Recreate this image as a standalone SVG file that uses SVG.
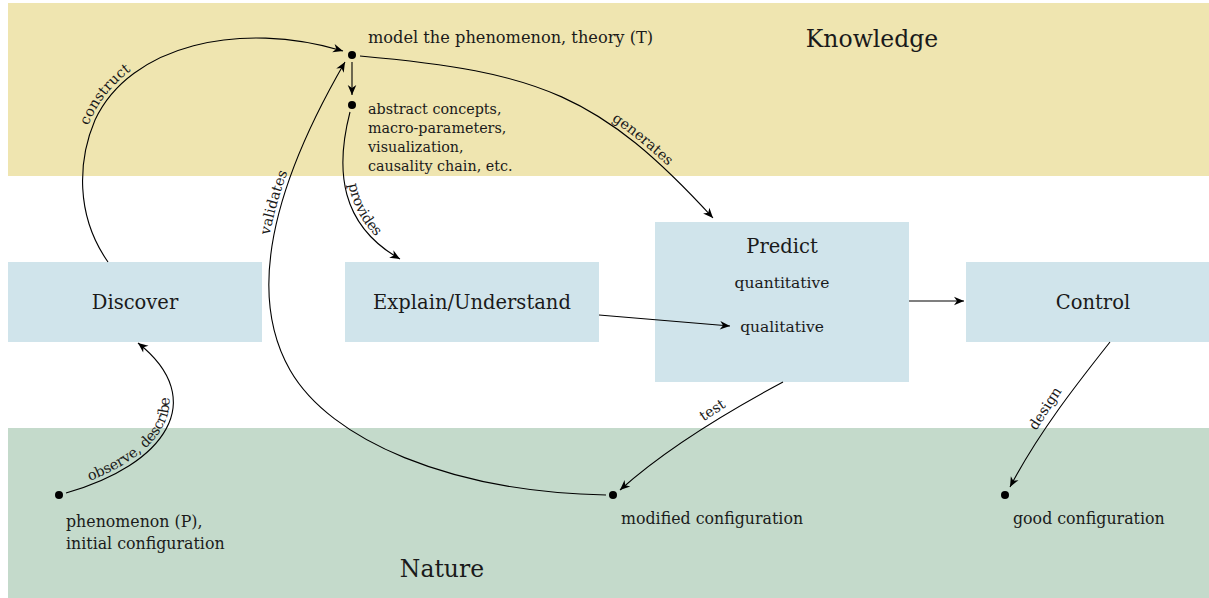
<svg xmlns="http://www.w3.org/2000/svg" width="1209" height="598" viewBox="0 0 1209 598">
<style>
.band-k{fill:#efe5b0}
.band-n{fill:#c4dacb}
.box{fill:#d0e4eb}
text{font-family:"DejaVu Serif","Liberation Serif",serif;fill:#1a1a1a}
.big{font-size:23.5px}
.node{font-size:19.5px}
.sub{font-size:15.5px}
.sm{font-size:15.8px}
.model{font-size:16.2px}
.ab{font-size:14.3px}
.el{font-size:14.3px}
.edge{fill:none;stroke:#000;stroke-width:1.1}
.dot{fill:#000}
</style>
<defs>
<marker id="ah" viewBox="-11 -5 12 10" markerWidth="12" markerHeight="10" refX="0" refY="0" orient="auto" markerUnits="userSpaceOnUse">
<path d="M0,0 L-10,-4.3 L-7,0 L-10,4.3 Z" fill="#000"/>
</marker>
</defs>
<g id="bands">
<rect class="band-k" x="8" y="3" width="1201" height="173"/>
<rect class="band-n" x="8" y="428" width="1201" height="170"/>
<text class="big" x="872" y="47" text-anchor="middle">Knowledge</text>
<text class="big" x="442" y="577" text-anchor="middle">Nature</text>
</g>
<g id="discover">
<rect class="box" x="8" y="262" width="254" height="80"/>
<text class="node" x="135" y="309" text-anchor="middle">Discover</text>
</g>
<g id="explain">
<rect class="box" x="345" y="262" width="254" height="80"/>
<text class="node" x="472" y="309" text-anchor="middle">Explain/Understand</text>
</g>
<g id="predict">
<rect class="box" x="655" y="222" width="254" height="160"/>
<text class="node" x="782" y="253" text-anchor="middle">Predict</text>
<text class="sub" x="782" y="288" text-anchor="middle">quantitative</text>
<text class="sub" x="782" y="332" text-anchor="middle">qualitative</text>
</g>
<g id="control">
<rect class="box" x="966" y="262" width="243" height="80"/>
<text class="node" x="1093" y="309" text-anchor="middle">Control</text>
</g>
<g id="theory">
<circle class="dot" cx="352" cy="55" r="4"/>
<text class="model" x="368" y="43">model the phenomenon, theory (T)</text>
</g>
<g id="abstract">
<circle class="dot" cx="352" cy="105" r="4"/>
<text class="ab" x="368" y="114">abstract concepts,</text>
<text class="ab" x="368" y="133">macro-parameters,</text>
<text class="ab" x="368" y="152">visualization,</text>
<text class="ab" x="368" y="171">causality chain, etc.</text>
</g>
<g id="phenomenon">
<circle class="dot" cx="59" cy="495" r="4"/>
<text class="sm" x="66" y="527">phenomenon (P),</text>
<text class="sm" x="66" y="549">initial configuration</text>
</g>
<g id="modified">
<circle class="dot" cx="613" cy="495" r="4"/>
<text class="sm" x="621" y="524">modified configuration</text>
</g>
<g id="good">
<circle class="dot" cx="1005" cy="495" r="4"/>
<text class="sm" x="1013" y="524">good configuration</text>
</g>
<g id="connectors">
<path id="p-construct" class="edge" d="M108,262 C75,215 78,160 95,120 C130,45 240,20 343,51" marker-end="url(#ah)"/>
<path class="edge" d="M352,62 L352,95" marker-end="url(#ah)"/>
<path id="p-validates" class="edge" d="M606,495 C450,492 330,440 290,370 C250,300 265,200 345,62" marker-end="url(#ah)"/>
<path id="p-provides" class="edge" d="M350,112 C335,170 340,225 400,259" marker-end="url(#ah)"/>
<path id="p-generates" class="edge" d="M360,56 C540,72 600,95 713,218" marker-end="url(#ah)"/>
<path class="edge" d="M599,315 L730,326" marker-end="url(#ah)"/>
<path class="edge" d="M909,301 L964,301" marker-end="url(#ah)"/>
<path class="edge" d="M783,382 C740,405 670,445 620,490" marker-end="url(#ah)"/>
<path class="edge" d="M1110,342 C1080,380 1040,430 1010,487" marker-end="url(#ah)"/>
<path id="p-observe" class="edge" d="M66,493 C165,465 210,400 138,343" marker-end="url(#ah)"/>
<text class="el" dy="-4"><textPath href="#p-construct" startOffset="41%" text-anchor="middle">construct</textPath></text>
<text class="el" dy="-4"><textPath href="#p-validates" startOffset="77%" text-anchor="middle">validates</textPath></text>
<text class="el" dy="-4"><textPath href="#p-provides" startOffset="62%" text-anchor="middle">provides</textPath></text>
<text class="el" dy="-4"><textPath href="#p-generates" startOffset="74%" text-anchor="middle">generates</textPath></text>
<text class="el" dy="-4"><textPath href="#p-observe" startOffset="41%" text-anchor="middle">observe, describe</textPath></text>
<text class="el" x="715" y="414" text-anchor="middle" transform="rotate(-33 715 414)">test</text>
<text class="el" x="1049" y="411" text-anchor="middle" transform="rotate(-57 1049 411)">design</text>
</g>
</svg>
